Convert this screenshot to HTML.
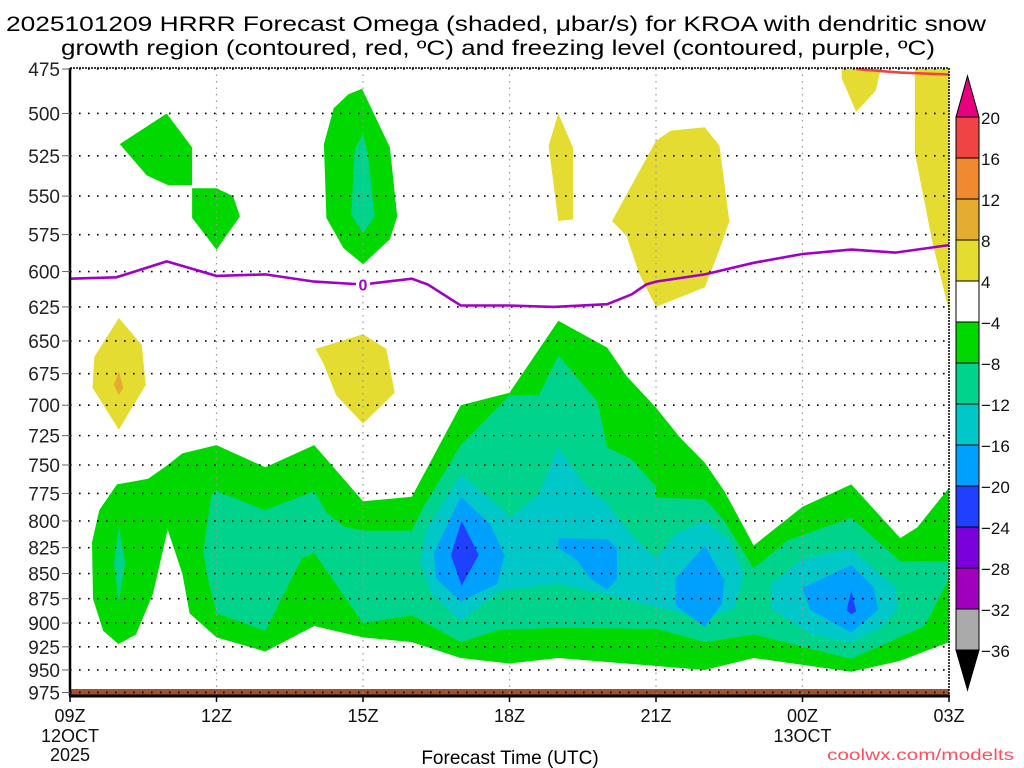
<!DOCTYPE html>
<html><head><meta charset="utf-8"><style>
html,body{margin:0;padding:0;background:#fff;}
svg{display:block;font-family:"Liberation Sans",sans-serif;}
</style></head><body>
<svg id="chart" width="1024" height="768" viewBox="0 0 1024 768" xmlns="http://www.w3.org/2000/svg">
<text x="496" y="31" font-size="21" text-anchor="middle" textLength="980" lengthAdjust="spacingAndGlyphs">2025101209 HRRR Forecast Omega (shaded, μbar/s) for KROA with dendritic snow</text>
<text x="498" y="55" font-size="21" text-anchor="middle" textLength="874" lengthAdjust="spacingAndGlyphs">growth region (contoured, red, ºC) and freezing level (contoured, purple, ºC)</text>
<g id="fills"></g>
<g id="grid"></g>
<g id="lines"></g>
<g id="axes"></g>
<g id="cbar"></g>
<text x="510" y="764" font-size="19" text-anchor="middle">Forecast Time (UTC)</text>
<text x="1014" y="760" font-size="16" text-anchor="end" fill="#ff4f5f" textLength="187" lengthAdjust="spacingAndGlyphs">coolwx.com/modelts</text>
</svg>
<script>
// ---- data ----
const pressureTicks = [475,500,525,550,575,600,625,650,675,700,725,750,775,800,825,850,875,900,925,950,975];
const timeTickHours = [0,3,6,9,12,15,18];
const timeTickLabels = ["09Z","12Z","15Z","18Z","21Z","00Z","03Z"];
const cbarLevels = [20,16,12,8,4,-4,-8,-12,-16,-20,-24,-28,-32,-36];
const cbarColors = ["#f04444","#f08a30","#e4ac30","#e4dc30","#ffffff","#00d800","#00d48c","#00c8c8","#00a0ff","#2040ff","#7a00dc","#a000bc","#aaaaaa"];
// contour polygons: [hour since 09Z, pressure hPa]
const greenMain = [[0.99,922],[0.68,908],[0.47,875],[0.45,820],[0.6,790],[0.96,767],[1.6,762],[2,750],[2.3,740],[3,733],[4,752],[5,733],[6,782],[7,778],[8,700],[8.8,692],[9,690],[10,635],[11,655],[11.4,677],[12,702],[12.5,727],[13,748],[13.4,773],[14,823],[15,787],[16,767],[17,816],[17.35,806],[18,770],[18,920],[17,940],[16,952],[14,937],[13,950],[10,937],[9,943],[8,937],[7,920],[6,915],[5,903],[4,930],[3,915],[2.45,890],[2.3,850],[2,808],[1.7,870],[1.35,912]];
const tealMain = [[2.9,776],[3,773],[4,790],[5,773],[5.25,792],[5.6,805],[6,809],[7,809],[7.2,790],[8,733],[9,692],[9.6,692],[10,661],[10.8,697],[11,735],[11.5,745],[12,769],[12,779],[13,780],[13.4,800],[14,845],[14.7,818],[16,797],[17,838],[18,838],[18,855],[17.5,903],[16,938],[14,912],[13,920],[12,906],[10,905],[8.8,907],[8,920],[7,892],[6,900],[5,830],[4.75,835],[4,908],[3,890],[2.8,850],[2.73,828]];
const tealLens = [[1,805],[1.13,840],[1,878],[0.9,840]];
const cyanMain = [[8,758],[8.87,790],[9,797],[9.6,776],[10,735],[10.5,765],[11,785],[11.6,818],[12,835],[12.4,812],[13,800],[13.5,818],[13.8,850],[13.6,885],[13,896],[12,883],[10,860],[8.8,867],[8,898],[7.4,870],[7.17,838],[7.3,808]];
const cyanEast = [[14.35,860],[15,836],[16,826],[16.5,847],[16.9,863],[16.95,885],[16.6,905],[16,920],[15.2,912],[14.35,885]];
const blue17z = [[8,778],[8.6,803],[8.9,832],[8.75,860],[8,878],[7.5,855],[7.45,830]];
const blue19z = [[10,816],[11,817],[11.2,825],[11.2,855],[11,866],[10.65,855],[10.4,838],[10,825]];
const blue22z = [[13,823],[13.4,857],[13.35,880],[13,904],[12.4,882],[12.4,855]];
const blue01z = [[16,842],[16.45,863],[16.55,886],[16,910],[15.15,886],[15,864]];
const dblue17z = [[8.02,800],[8.37,832],[8.02,862],[7.8,832]];
const dblue01z = [[16,867],[16.1,888],[16,891],[15.9,887]];
const greenA = [[1.02,518],[1.98,500],[2.5,520],[2.5,543],[2,543],[1.57,537]];
const greenB = [[2.5,545],[3,545],[3.34,550],[3.48,563],[3,585],[2.5,564]];
const greenC = [[5.98,486],[6.55,520],[6.7,563],[6.55,578],[6,595],[5.6,584],[5.25,564],[5.2,518],[5.4,497],[5.7,489]];
const tealC = [[6,512],[6.1,524],[6.24,563],[6,574],[5.76,562],[5.83,521]];
const yellowD = [[1,633],[1.47,653],[1.55,684],[1,720],[0.46,686],[0.5,662]];
const orangeD = [[1,673],[1.09,686],[1,692],[0.9,684]];
const yellowE = [[5.03,656],[6,645],[6.48,656],[6.65,690],[6,715],[5.45,692],[5.2,668]];
const yellowF = [[10,500],[10.3,520],[10.3,565],[10,566],[9.8,519]];
const yellowG = [[11.1,566],[12,516],[12.3,510],[13,508],[13.3,519],[13.5,566],[13.3,585],[13,611],[12,625],[11.65,601],[11.4,576]];
const yellowH = [[15.8,475],[16.6,475],[16.5,487],[16.1,499],[15.8,480]];
const yellowI = [[17.3,475],[18,475],[18,628],[17.66,580],[17.3,523]];
const freezingLine = [[0,605],[0.95,604],[1.98,593],[3,603],[4,602],[5,607],[6,609],[7,605],[7.33,609],[8,624],[9,624],[9.9,625],[11,623],[11.5,616],[11.8,609],[12,607],[13,602],[14,594],[15,588],[16,585],[16.9,587],[18,582]];
const dgzLine = [[16.1,475],[17,477],[18,478]];

// ---- axes ----
const X0=70, X1=949, Y0=68, YB=696;
function xs(h){return X0 + h*(X1-X0)/18;}
function ys(p){return 69 + 867*Math.log(p/475);}
const NS="http://www.w3.org/2000/svg";
function mk(tag,attrs,parent){const e=document.createElementNS(NS,tag);for(const k in attrs)e.setAttribute(k,attrs[k]);parent.appendChild(e);return e;}
function pts(arr){return arr.map(d=>xs(d[0]).toFixed(1)+","+Math.min(ys(d[1]),688).toFixed(1)).join(" ");}

const fills=document.getElementById('fills');
const shapes=[
 [greenMain,"#00d800","omega-fill-green-main"],[tealMain,"#00d48c","omega-fill-teal-main"],[tealLens,"#00d48c","omega-fill-teal-lens"],
 [cyanMain,"#00c8c8","omega-fill-cyan-main"],[cyanEast,"#00c8c8","omega-fill-cyan-east"],
 [blue17z,"#00a0ff","omega-fill-blue-17z"],[blue19z,"#00a0ff","omega-fill-blue-19z"],[blue22z,"#00a0ff","omega-fill-blue-22z"],[blue01z,"#00a0ff","omega-fill-blue-01z"],
 [dblue17z,"#2040ff","omega-fill-darkblue-17z"],[dblue01z,"#2040ff","omega-fill-darkblue-01z"],
 [greenA,"#00d800","omega-fill-green-a"],[greenB,"#00d800","omega-fill-green-b"],[greenC,"#00d800","omega-fill-green-c"],[tealC,"#00d48c","omega-fill-teal-c"],
 [yellowD,"#e4dc30","omega-fill-yellow-d"],[orangeD,"#e4ac30","omega-fill-orange-d"],[yellowE,"#e4dc30","omega-fill-yellow-e"],
 [yellowF,"#e4dc30","omega-fill-yellow-f"],[yellowG,"#e4dc30","omega-fill-yellow-g"],[yellowH,"#e4dc30","omega-fill-yellow-h"],[yellowI,"#e4dc30","omega-fill-yellow-i"]
];
for(const s of shapes){
 const el=mk('polygon',{points:pts(s[0]),fill:s[1]},fills);
 
 
}
// ground strip
const strip=mk('rect',{x:X0,y:689,width:X1-X0,height:6,fill:"#a0522d"},fills);



// grid
const grid=document.getElementById('grid');
for(const p of pressureTicks){
 const g=mk('line',{x1:X0,x2:X1,y1:ys(p),y2:ys(p),stroke:"#000","stroke-width":1.6,"stroke-dasharray":"1.6 7.4"},grid);
 
 
}
for(const h of timeTickHours){
 if(h===0||h===18) continue;
 const g=mk('line',{x1:xs(h),x2:xs(h),y1:Y0,y2:YB,stroke:"#999","stroke-width":1.2,"stroke-dasharray":"1.5 5"},grid);
 
 
}

// lines
const lines=document.getElementById('lines');
const fl=mk('polyline',{points:pts(freezingLine),fill:"none",stroke:"#a000c8","stroke-width":2.6},lines);


const lb=mk('rect',{x:xs(6)-7,y:ys(609)-9,width:14,height:18,fill:"#fff"},lines);


const lt=mk('text',{x:xs(6),y:ys(609)+6,"font-size":16,"font-weight":"bold","text-anchor":"middle",fill:"#a000c8"},lines);
lt.textContent="0";


const dl=mk('polyline',{points:pts(dgzLine),fill:"none",stroke:"#f04444","stroke-width":2.6},lines);



// axes
const axes=document.getElementById('axes');
let a=mk('line',{x1:X0,x2:X0,y1:Y0,y2:YB,stroke:"#000","stroke-width":2.5},axes);
 
a=mk('line',{x1:X0-1,x2:X1+1,y1:YB,y2:YB,stroke:"#000","stroke-width":3},axes);
 
a=mk('line',{x1:X0,x2:X1,y1:Y0,y2:Y0,stroke:"#000","stroke-width":1.5,"stroke-dasharray":"2 1"},axes);
 
a=mk('line',{x1:X1,x2:X1,y1:Y0,y2:YB,stroke:"#000","stroke-width":1.5,"stroke-dasharray":"2 1"},axes);
 
for(const p of pressureTicks){
 const t=mk('text',{x:60,y:ys(p)+7,"font-size":19,"text-anchor":"end",fill:"#222"},axes);
 t.textContent=p;
 
 
 const tk=mk('line',{x1:62,x2:X0,y1:ys(p),y2:ys(p),stroke:"#666","stroke-width":1},axes);
 
 
}
timeTickHours.forEach((h,i)=>{
 const t=mk('text',{x:xs(h),y:722,"font-size":18,"text-anchor":"middle",fill:"#111"},axes);
 t.textContent=timeTickLabels[i];
 
 
 const tk=mk('line',{x1:xs(h),x2:xs(h),y1:YB,y2:YB+6,stroke:"#000","stroke-width":1.5},axes);
 
 
});
let d=mk('text',{x:xs(0),y:742,"font-size":18,"text-anchor":"middle",fill:"#111"},axes);
d.textContent="12OCT";  
d=mk('text',{x:xs(0),y:761,"font-size":18,"text-anchor":"middle",fill:"#111"},axes);
d.textContent="2025";  
d=mk('text',{x:xs(15),y:742,"font-size":18,"text-anchor":"middle",fill:"#111"},axes);
d.textContent="13OCT";  

// colorbar
const cb=document.getElementById('cbar');
const CX=956, CW=23, CT=117, CS=41;
let tri=mk('polygon',{points:`${CX},${CT} ${CX+CW},${CT} ${CX+CW/2},76`,fill:"#e6007e",stroke:"#000","stroke-width":1},cb);
 
cbarColors.forEach((c,i)=>{
 const r=mk('rect',{x:CX,y:CT+i*CS,width:CW,height:CS,fill:c,stroke:"#000","stroke-width":1},cb);
 
 
});
const bot=CT+cbarColors.length*CS;
tri=mk('polygon',{points:`${CX},${bot} ${CX+CW},${bot} ${CX+CW/2},${bot+40}`,fill:"#000",stroke:"#000","stroke-width":1},cb);
 
cbarLevels.forEach((v,i)=>{
 const t=mk('text',{x:981,y:CT+i*CS+7,"font-size":17,fill:"#111"},cb);
 t.textContent=v<0?("\u2212"+(-v)):String(v);
 
 
});
</script>
</body></html>
